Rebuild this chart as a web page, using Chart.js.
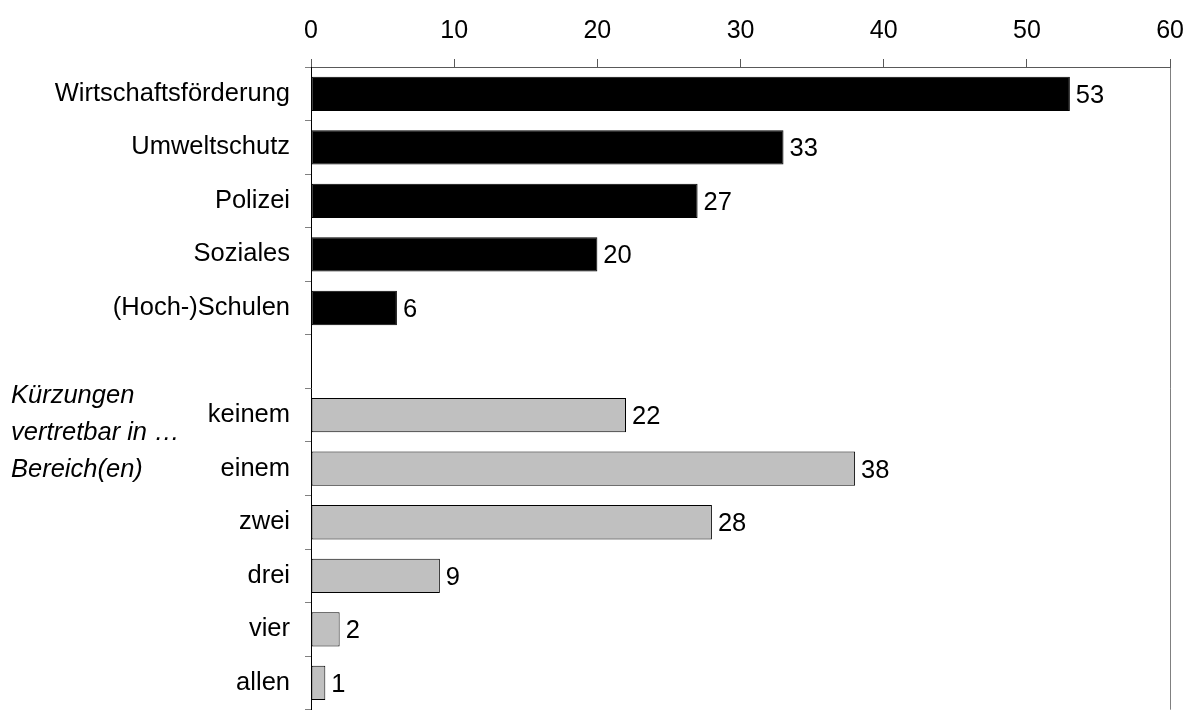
<!DOCTYPE html>
<html>
<head>
<meta charset="utf-8">
<script src="https://cdn.jsdelivr.net/npm/chart.js@4/dist/chart.umd.min.js"></script>
<style>
  html, body { margin: 0; padding: 0; background: #fff; overflow: hidden; }
  #wrap { width: 1197px; height: 740px; }
</style>
</head>
<body>
<div id="wrap"><canvas id="c" width="1197" height="740"></canvas></div>
<script>
const categories = ['Wirtschaftsförderung', 'Umweltschutz', 'Polizei', 'Soziales', '(Hoch-)Schulen', '',
  'keinem', 'einem', 'zwei', 'drei', 'vier', 'allen'];
const values = [53, 33, 27, 20, 6, null, 22, 38, 28, 9, 2, 1];
const areaCount = 5; // first five rows are policy areas, the rest count answers
const xTicks = [0, 10, 20, 30, 40, 50, 60];
const noteLines = ['Kürzungen', 'vertretbar in …', 'Bereich(en)'];

const FONT = 'Liberation Sans, Arial, sans-serif';

const valueLabels = {
  id: 'valueLabels',
  afterDatasetsDraw(chart) {
    const ctx = chart.ctx;
    const meta = chart.getDatasetMeta(0);
    ctx.save();
    ctx.font = '25.5px ' + FONT;
    ctx.fillStyle = '#000';
    ctx.textAlign = 'left';
    ctx.textBaseline = 'middle';
    meta.data.forEach((el, i) => {
      const v = values[i];
      if (v === null || v === undefined) return;
      ctx.fillText(String(v), el.x + 6, el.y + 2);
    });
    ctx.restore();
  }
};

const note = {
  id: 'note',
  afterDraw(chart) {
    const ctx = chart.ctx;
    const y = chart.scales.y;
    const yc = (y.getPixelForValue(6) + y.getPixelForValue(7)) / 2;
    ctx.save();
    ctx.font = 'italic 25.5px ' + FONT;
    ctx.fillStyle = '#000';
    ctx.textAlign = 'left';
    ctx.textBaseline = 'alphabetic';
    const lh = 37;
    noteLines.forEach((t, i) => {
      ctx.fillText(t, 11, yc - 39 + i * lh);
    });
    ctx.restore();
  }
};

new Chart(document.getElementById('c'), {
  type: 'bar',
  data: {
    labels: categories,
    datasets: [{
      data: values,
      backgroundColor: values.map((v, i) => i < areaCount ? '#000000' : '#c0c0c0'),
      borderColor: '#000000',
      borderWidth: 1,
      borderSkipped: false,
      categoryPercentage: 1,
      barPercentage: 0.64
    }]
  },
  options: {
    indexAxis: 'y',
    responsive: false,
    devicePixelRatio: 1,
    animation: false,
    layout: { padding: { top: 0, right: 26, bottom: 17, left: 0 } },
    plugins: { legend: { display: false }, tooltip: { enabled: false } },
    scales: {
      x: {
        position: 'top',
        min: 0, max: 60,
        afterBuildTicks: s => { s.ticks = xTicks.map(v => ({ value: v })); },
        afterFit: s => { s.height = 67; },
        ticks: { font: { family: FONT, size: 25 }, color: '#000', padding: 13, maxRotation: 0 },
        grid: {
          drawOnChartArea: true,
          color: c => (c.tick && c.tick.value === 60) ? '#808080' : 'rgba(0,0,0,0)',
          tickColor: '#595959',
          tickLength: 8,
          lineWidth: 1
        },
        border: { color: '#595959', width: 1 }
      },
      y: {
        afterFit: s => { s.width = 311; },
        ticks: { font: { family: FONT, size: 25.5 }, color: '#000', padding: 15 },
        grid: { offset: true, drawOnChartArea: false, tickColor: '#808080', tickLength: 6 },
        border: { color: '#000', width: 1 }
      }
    }
  },
  plugins: [valueLabels, note]
});
</script>
</body>
</html>
